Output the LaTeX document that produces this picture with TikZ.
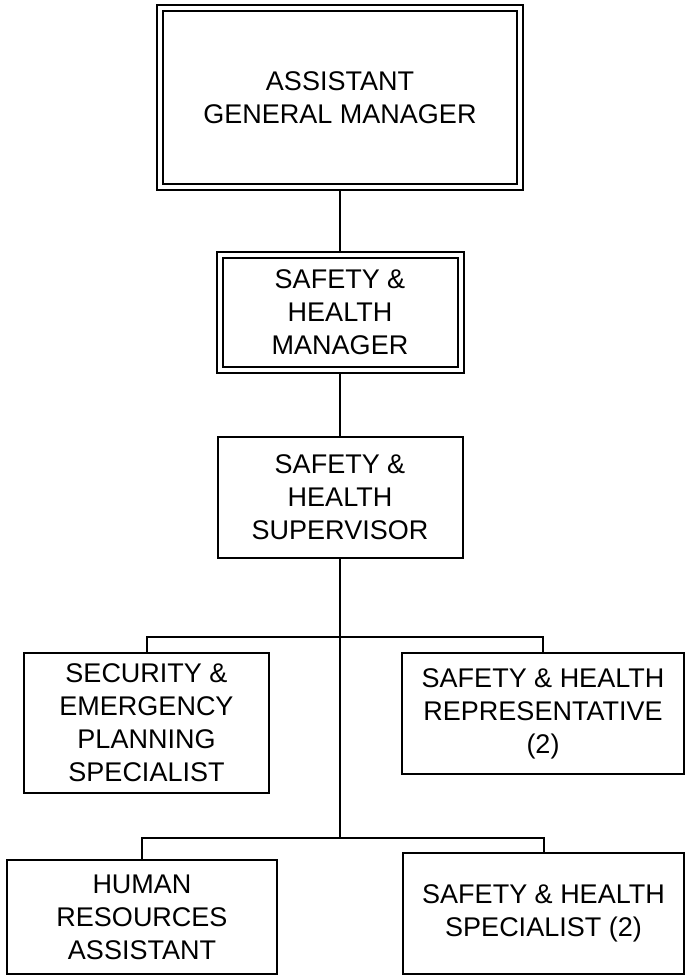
\documentclass[tikz,border=0pt]{standalone}
\usepackage{fontspec}
\setmainfont{Liberation Sans}
\begin{document}
\begin{tikzpicture}[x=1pt,y=-1pt,
  every node/.style={font=\fontsize{27}{33}\selectfont, align=center, inner sep=0pt},
  unit/.style={draw, line width=2pt, rectangle, outer sep=0pt},
  headunit/.style={draw, line width=2pt, double, double distance=4pt, rectangle, outer sep=3pt},
  link/.style={line width=2pt}]
\useasboundingbox (0,0) rectangle (687,977);

% management chain
\node[headunit, minimum width=360pt, minimum height=178.7pt] (agm) at (340,97.7) {ASSISTANT\\GENERAL MANAGER};
\node[headunit, minimum width=241pt, minimum height=115pt] (shm) at (340,312.5) {SAFETY \&\\HEALTH\\MANAGER};
\node[unit, minimum width=245pt, minimum height=121pt] (shs) at (340,497.5) {SAFETY \&\\HEALTH\\SUPERVISOR};

% staff reporting to the supervisor
\node[unit, minimum width=245pt, minimum height=140pt] (sep) at (146.5,723) {SECURITY \&\\EMERGENCY\\PLANNING\\SPECIALIST};
\node[unit, minimum width=282pt, minimum height=121pt] (shr) at (543,713.5) {SAFETY \& HEALTH\\REPRESENTATIVE\\(2)};
\node[unit, minimum width=270pt, minimum height=114pt] (hra) at (142,917) {HUMAN\\RESOURCES\\ASSISTANT};
\node[unit, minimum width=281pt, minimum height=121pt] (shsp) at (543.5,913.5) {SAFETY \& HEALTH\\SPECIALIST (2)};

% branch points on the spine
\coordinate (j1) at (340,637);
\coordinate (j2) at (340,838);

\draw[link] (agm.south) -- (shm.north);
\draw[link] (shm.south) -- (shs.north);
\draw[link] (shs.south) -- (j2);
\draw[link] (sep.north) |- (j1) -| (shr.north);
\draw[link] (hra.north) |- (j2) -| (shsp.north);
\end{tikzpicture}
\end{document}
